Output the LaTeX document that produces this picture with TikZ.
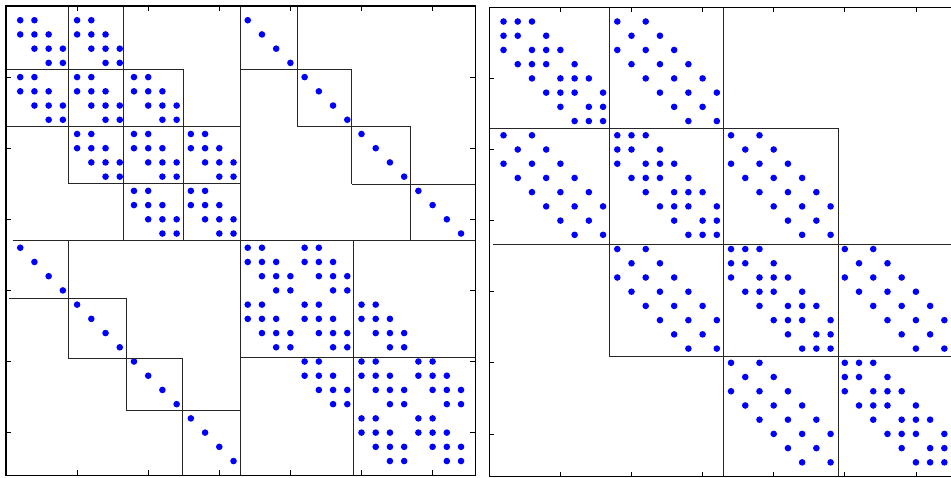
\documentclass[tikz,border=0pt]{standalone}
\begin{document}
\begin{tikzpicture}[x=1pt,y=-1pt,
  dotc/.style={fill={rgb,255:red,0;green,0;blue,255}},
  gridline/.style={black!85,line width=1pt},
  framebox/.style={black,line width=1.2pt},
  tickmark/.style={black,line width=0.8pt}]
\useasboundingbox (0,0) rectangle (951,477);
\clip (0,0) rectangle (951,477);
% ---------------- left panel ----------------
\begin{scope}[shift={(6,6)},x=14.22pt,y=-14.22pt]
  \foreach \i in {0,...,31}{
    \foreach \j in {0,...,31}{
      \pgfmathtruncatemacro\show{or(and(and(div(\i,16)==div(\j,16),abs(div(\i,4)-div(\j,4))<=1),abs(mod(\i,4)-mod(\j,4))<=1),abs(\i-\j)==16)}
      \ifnum\show=1 \fill[dotc] (\j+1,\i+1) circle[radius=3.3pt];\fi
    }
  }
  % block lines
  \draw[gridline] (0,4.48)--(12.55,4.48);
  \draw[gridline] (4.43,0)--(4.43,12.5);
  \draw[gridline] (8.28,0)--(8.28,16.5);
  \draw[gridline] (12.5,4.48)--(12.5,16.5);
  \draw[gridline] (0,8.5)--(16.46,8.5);
  \draw[gridline] (4.43,12.5)--(16.46,12.5);
  \draw[gridline] (16.46,0)--(16.46,33);
  \draw[gridline] (20.5,0)--(20.5,8.5);
  \draw[gridline] (16.46,4.48)--(24.33,4.48);
  \draw[gridline] (24.33,4.48)--(24.33,12.5);
  \draw[gridline] (20.5,8.5)--(28.46,8.5);
  \draw[gridline] (28.46,8.5)--(28.46,16.5);
  \draw[gridline] (24.33,12.54)--(33,12.54);
  \draw[gridline] (0.47,16.5)--(33,16.5);
  \draw[gridline] (4.43,16.5)--(4.43,24.8);
  \draw[gridline] (0.19,20.56)--(8.49,20.56);
  \draw[gridline] (8.49,20.56)--(8.49,28.48);
  \draw[gridline] (4.43,24.82)--(12.43,24.82);
  \draw[gridline] (12.43,24.82)--(12.43,33);
  \draw[gridline] (8.49,28.48)--(16.46,28.48);
  \draw[gridline] (24.47,16.5)--(24.47,33);
  \draw[gridline] (16.46,24.7)--(33,24.7);
  % ticks
  \foreach \k in {5,10,...,30}{
    \draw[tickmark] (\k,0)--(\k,0.35);
    \draw[tickmark] (\k,33)--(\k,32.65);
    \draw[tickmark] (0,\k)--(0.35,\k);
    \draw[tickmark] (33,\k)--(32.65,\k);
  }
  \draw[framebox] (0,0) rectangle (33,33);
\end{scope}
% ---------------- right panel ----------------
\begin{scope}[shift={(489.3,7.3)},x=14.22pt,y=-14.22pt]
  \foreach \i in {0,...,31}{
    \foreach \j in {0,...,31}{
      \pgfmathtruncatemacro\show{and(abs(div(\i,8)-div(\j,8))<=1,or(or(abs(mod(\i,8)-mod(\j,8))==0,abs(mod(\i,8)-mod(\j,8))==2),and(div(\i,8)==div(\j,8),div(\i,2)==div(\j,2))))}
      \ifnum\show=1 \fill[dotc] (\j+1,\i+1) circle[radius=3.3pt];\fi
    }
  }
  % block lines
  \draw[gridline] (8.42,0)--(8.42,24.57);
  \draw[gridline] (0.05,8.49)--(24.56,8.49);
  \draw[gridline] (16.48,0)--(16.48,33);
  \draw[gridline] (24.56,8.49)--(24.56,33);
  \draw[gridline] (0.28,16.65)--(33,16.65);
  \draw[gridline] (8.42,24.57)--(33,24.57);
  % ticks
  \foreach \k in {5,10,...,30}{
    \draw[tickmark] (\k,0)--(\k,0.35);
    \draw[tickmark] (\k,33)--(\k,32.65);
    \draw[tickmark] (0,\k)--(0.35,\k);
  }
  \draw[framebox] (0,0) rectangle (33,33);
\end{scope}
\end{tikzpicture}
\end{document}
